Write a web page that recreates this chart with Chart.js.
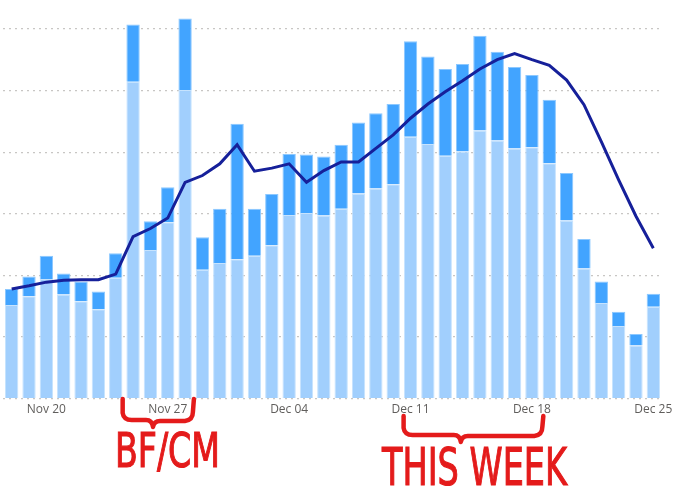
<!DOCTYPE html>
<html>
<head>
<meta charset="utf-8">
<script src="https://cdn.jsdelivr.net/npm/chart.js@4.4.1/dist/chart.umd.min.js"></script>
<style>
  body { margin: 0; background: #fff; }
  #wrap { position: relative; width: 677px; height: 491px; overflow: hidden; }
  .note {
    position: absolute;
    display: inline-block;
    white-space: nowrap;
    font-family: "DejaVu Sans", sans-serif;
    line-height: 1;
    color: #e41b1b;
    -webkit-text-stroke: 1.2px #e41b1b;
    transform-origin: left top;
  }
</style>
</head>
<body>
<div id="wrap">
  <canvas id="chart" width="677" height="491"></canvas>
  <div class="note" id="bfcm" style="font-size:48px; left:115px; top:426px;">BF/CM</div>
  <div class="note" id="thisweek" style="font-size:52px; left:382px; top:441px;">THIS WEEK</div>
</div>
<script>
// daily dates on the x axis
const days = [
  'Nov 18', 'Nov 19', 'Nov 20', 'Nov 21', 'Nov 22', 'Nov 23', 'Nov 24', 'Nov 25',
  'Nov 26', 'Nov 27', 'Nov 28', 'Nov 29', 'Nov 30', 'Dec 01', 'Dec 02', 'Dec 03',
  'Dec 04', 'Dec 05', 'Dec 06', 'Dec 07', 'Dec 08', 'Dec 09', 'Dec 10', 'Dec 11',
  'Dec 12', 'Dec 13', 'Dec 14', 'Dec 15', 'Dec 16', 'Dec 17', 'Dec 18', 'Dec 19',
  'Dec 20', 'Dec 21', 'Dec 22', 'Dec 23', 'Dec 24', 'Dec 25'
];
const tickLabels = ['Nov 20', 'Nov 27', 'Dec 04', 'Dec 11', 'Dec 18', 'Dec 25'];

// lower (light) part of each bar
const baseVals = [
  15.2, 16.6, 19.4, 16.9, 15.8, 14.5, 19.6, 51.4, 24.1, 28.6,
  50.1, 20.9, 22.0, 22.6, 23.2, 24.9, 29.8, 30.1, 29.7, 30.8,
  33.3, 34.1, 34.8, 42.5, 41.3, 39.4, 40.1, 43.5, 41.9, 40.6,
  40.8, 38.2, 28.9, 21.1, 15.5, 11.8, 8.6, 14.9
];
// upper (dark) part stacked on top
const topVals = [
  2.6, 3.2, 3.8, 3.4, 3.2, 2.9, 4.0, 9.3, 4.7, 5.7,
  11.6, 5.3, 8.8, 22.0, 7.6, 8.3, 9.9, 9.5, 9.6, 10.4,
  11.5, 12.2, 13.0, 15.5, 14.2, 14.1, 14.2, 15.4, 14.4, 13.2,
  11.7, 10.3, 7.7, 4.8, 3.5, 2.3, 1.9, 2.1
];
// trend line
const trendVals = [
  17.8, 18.3, 18.9, 19.2, 19.3, 19.3, 20.2, 26.3, 27.6, 29.3,
  35.1, 36.2, 38.1, 41.2, 36.9, 37.4, 38.1, 35.1, 37.0, 38.4,
  38.4, 40.6, 42.8, 45.5, 47.8, 49.8, 51.6, 53.5, 55.0, 56.0,
  55.0, 54.1, 51.7, 47.7, 41.7, 35.5, 29.6, 24.4
];

// hand drawn braces under the axis, positions in category units
const braces = [
  { from: 6.4, dip: 8.15, to: 10.45, top: 399, mid: 420, low: 427 },
  { from: 22.6, dip: 25.9, to: 30.6, top: 416, mid: 435, low: 442 }
];

const bracePlugin = {
  id: 'braces',
  afterDraw(chart) {
    const x = chart.scales.x;
    const pitch = x.getPixelForValue(1) - x.getPixelForValue(0);
    const px = f => x.getPixelForValue(0) + f * pitch;
    const ctx = chart.ctx;
    ctx.save();
    ctx.strokeStyle = '#e41b1b';
    ctx.lineWidth = 4.5;
    ctx.lineCap = 'round';
    ctx.lineJoin = 'round';
    braces.forEach(b => {
      const l = px(b.from), d = px(b.dip), r = px(b.to);
      ctx.beginPath();
      ctx.moveTo(l, b.top);
      ctx.lineTo(l, b.mid - 7);
      ctx.quadraticCurveTo(l + 1, b.mid, l + 9, b.mid);
      ctx.lineTo(d - 7, b.mid);
      ctx.quadraticCurveTo(d - 1, b.mid, d, b.low);
      ctx.quadraticCurveTo(d + 1, b.mid + 1, d + 7, b.mid + 1);
      ctx.lineTo(r - 8, b.mid + 1);
      ctx.quadraticCurveTo(r, b.mid, r, b.mid - 8);
      ctx.lineTo(r + 1, b.top);
      ctx.stroke();
    });
    ctx.restore();
  }
};

new Chart(document.getElementById('chart'), {
  data: {
    labels: days,
    datasets: [
      {
        type: 'line',
        data: trendVals,
        stack: 'trend',
        borderColor: '#16209a',
        borderWidth: 3,
        pointRadius: 0,
        tension: 0,
        order: 0
      },
      {
        type: 'bar',
        data: baseVals,
        stack: 'orders',
        backgroundColor: '#a1cffd',
        borderColor: '#c6e3fe',
        borderWidth: 1,
        categoryPercentage: 1,
        barPercentage: 0.77,
        order: 1
      },
      {
        type: 'bar',
        data: topVals,
        stack: 'orders',
        backgroundColor: '#42a4ff',
        borderColor: '#8cc8ff',
        borderWidth: 1,
        categoryPercentage: 1,
        barPercentage: 0.77,
        order: 1
      }
    ]
  },
  options: {
    responsive: false,
    animation: false,
    layout: { padding: { top: 3, left: 3, right: 15, bottom: 70 } },
    plugins: { legend: { display: false }, tooltip: { enabled: false } },
    scales: {
      x: {
        stacked: true,
        grid: { display: false, drawTicks: false },
        border: { display: false },
        ticks: {
          autoSkip: false,
          maxRotation: 0,
          padding: 4,
          color: '#605e5c',
          font: { family: 'Open Sans', size: 12 },
          callback: function(val) {
            const lab = this.getLabelForValue(val);
            return tickLabels.includes(lab) ? lab : '';
          }
        }
      },
      y: {
        stacked: true,
        min: 0,
        max: 64.2,
        border: { display: false, dash: [2, 4] },
        ticks: { display: false, stepSize: 10 },
        grid: {
          drawTicks: false,
          lineWidth: 1.2,
          color: c => (c.tick && c.tick.value % 10 === 0) ? '#c8c6c4' : 'rgba(0,0,0,0)'
        }
      }
    }
  },
  plugins: [bracePlugin]
});

// squeeze the handwritten notes to their drawn widths
[['bfcm', 105], ['thisweek', 185]].forEach(([id, w]) => {
  const el = document.getElementById(id);
  const s = w / el.getBoundingClientRect().width;
  el.style.transform = 'scaleX(' + s + ')';
});
</script>
</body>
</html>
